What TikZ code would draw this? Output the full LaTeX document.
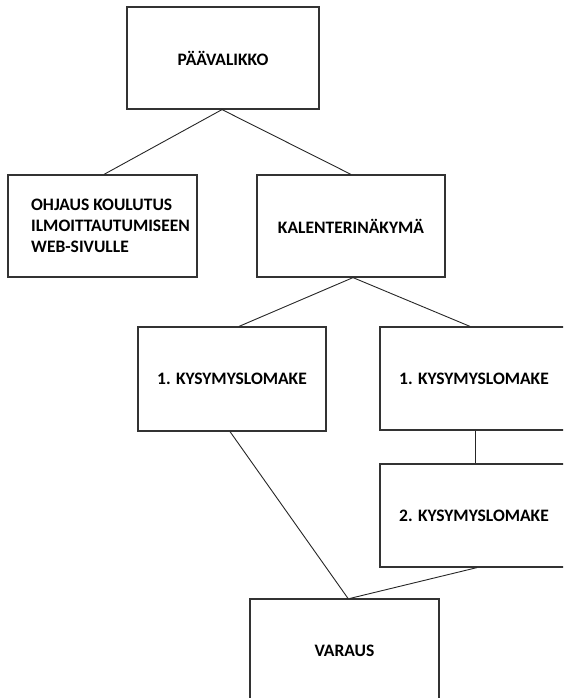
\documentclass[tikz,border=0pt]{standalone}
\usepackage{fontspec}
\setmainfont{Carlito}
\begin{document}
\begin{tikzpicture}[x=1pt,y=-1pt,
  box/.style={draw=black!80,line width=1.2pt,fill=white,inner sep=0pt,
    font=\fontsize{17.5}{21}\selectfont\bfseries,text=black},
  conn/.style={draw=black!85,line width=0.9pt}]
\useasboundingbox (0,0) rectangle (563,698);
\clip (0,0) rectangle (563,698);
\node[box,minimum width=192pt,minimum height=102pt] (top) at (223,58) {PÄÄVALIKKO};
\node[box,minimum width=189pt,minimum height=102pt,align=left] (ohj) at (102.5,226)
  {\hspace*{16pt}OHJAUS KOULUTUS\\\hspace*{16pt}ILMOITTAUTUMISEEN\\\hspace*{16pt}WEB-SIVULLE};
\node[box,minimum width=188pt,minimum height=102pt] (kal) at (351,226) {KALENTERINÄKYMÄ};
\node[box,minimum width=188pt,minimum height=104pt] (k1l) at (232,379) {1. KYSYMYSLOMAKE};
\node[box,minimum width=188pt,minimum height=103pt] (k1r) at (474,378.5) {1. KYSYMYSLOMAKE};
\node[box,minimum width=188pt,minimum height=103pt] (k2) at (474,515.5) {2. KYSYMYSLOMAKE};
\node[box,minimum width=189pt,minimum height=104pt] (var) at (344.5,651) {VARAUS};
\draw[conn] ([xshift=-1pt]top.south) -- ([xshift=1.5pt]ohj.north);
\draw[conn] ([xshift=-1pt]top.south) -- (kal.north);
\draw[conn] ([xshift=2pt]kal.south) -- ([xshift=7pt]k1l.north);
\draw[conn] ([xshift=2pt]kal.south) -- ([xshift=-4pt]k1r.north);
\draw[conn] ([xshift=1pt]k1r.south) -- ([xshift=1pt]k2.north);
\draw[conn] ([xshift=-2pt]k1l.south) -- ([xshift=3.5pt]var.north);
\draw[conn] ([xshift=3pt]k2.south) -- ([xshift=5.5pt]var.north);
\end{tikzpicture}
\end{document}
